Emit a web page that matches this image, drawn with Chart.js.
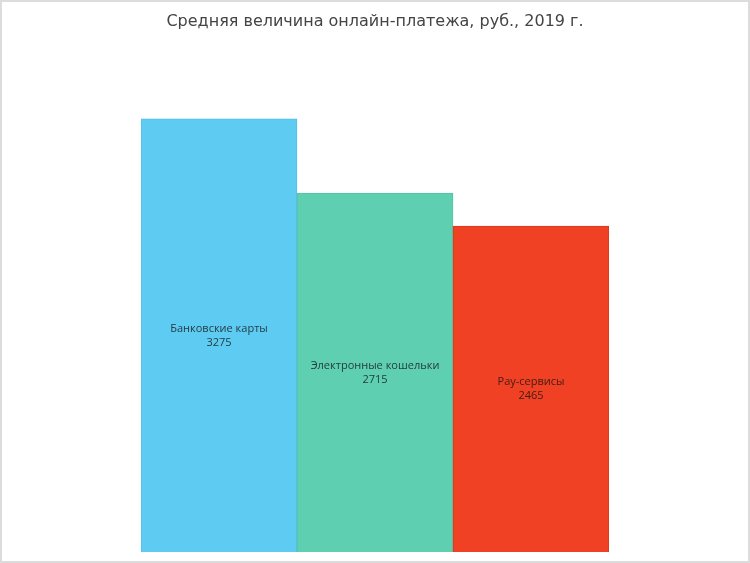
<!DOCTYPE html>
<html lang="ru">
<head>
<meta charset="UTF-8">
<title>Средняя величина онлайн-платежа</title>
<script src="https://cdn.jsdelivr.net/npm/chart.js"></script>
<style>
    html, body { margin: 0; padding: 0; background: #fff; }
    .frame {
        width: 750px;
        height: 563px;
        box-sizing: border-box;
        border: 2px solid #dcdcdc;
        position: relative;
    }
    .frame canvas { display: block; }
</style>
</head>
<body>
<div class="frame">
    <canvas id="payChart" width="746" height="559"></canvas>
</div>
<script>
const categories = ['Банковские карты', 'Электронные кошельки', 'Pay-сервисы'];
const values = [3275, 2715, 2465];
const barColors = ['#5ECBF3', '#5FCFB2', '#F04124'];
const barBorders = ['#55bde6', '#56c2a5', '#d9381d'];

// draws "category / value" in the middle of each bar
const barLabels = {
    id: 'barLabels',
    afterDatasetsDraw(chart) {
        const ctx = chart.ctx;
        const meta = chart.getDatasetMeta(0);
        ctx.save();
        ctx.font = '11px "Open Sans", sans-serif';
        ctx.textAlign = 'center';
        ctx.textBaseline = 'middle';
        ctx.fillStyle = 'rgba(20, 20, 20, 0.8)';
        meta.data.forEach((bar, i) => {
            const mid = (bar.y + bar.base) / 2;
            ctx.fillText(categories[i], bar.x, mid - 7);
            ctx.fillText(String(values[i]), bar.x, mid + 7);
        });
        ctx.restore();
    }
};

new Chart(document.getElementById('payChart'), {
    type: 'bar',
    data: {
        labels: categories,
        datasets: [{
            data: values,
            backgroundColor: barColors,
            borderColor: barBorders,
            borderWidth: 1,
            categoryPercentage: 1,
            barPercentage: 1
        }]
    },
    options: {
        responsive: false,
        animation: false,
        layout: { padding: { left: 139, right: 139, top: 0, bottom: 9 } },
        plugins: {
            legend: { display: false },
            tooltip: { enabled: false },
            title: {
                display: true,
                text: 'Средняя величина онлайн-платежа, руб., 2019 г.',
                color: '#444',
                font: { family: '"DejaVu Sans", sans-serif', size: 16, weight: 'normal' },
                padding: { top: 10, bottom: 58 }
            }
        },
        scales: {
            x: { display: false },
            y: { display: false, min: 0, max: 3500 }
        }
    },
    plugins: [barLabels]
});
</script>
</body>
</html>
